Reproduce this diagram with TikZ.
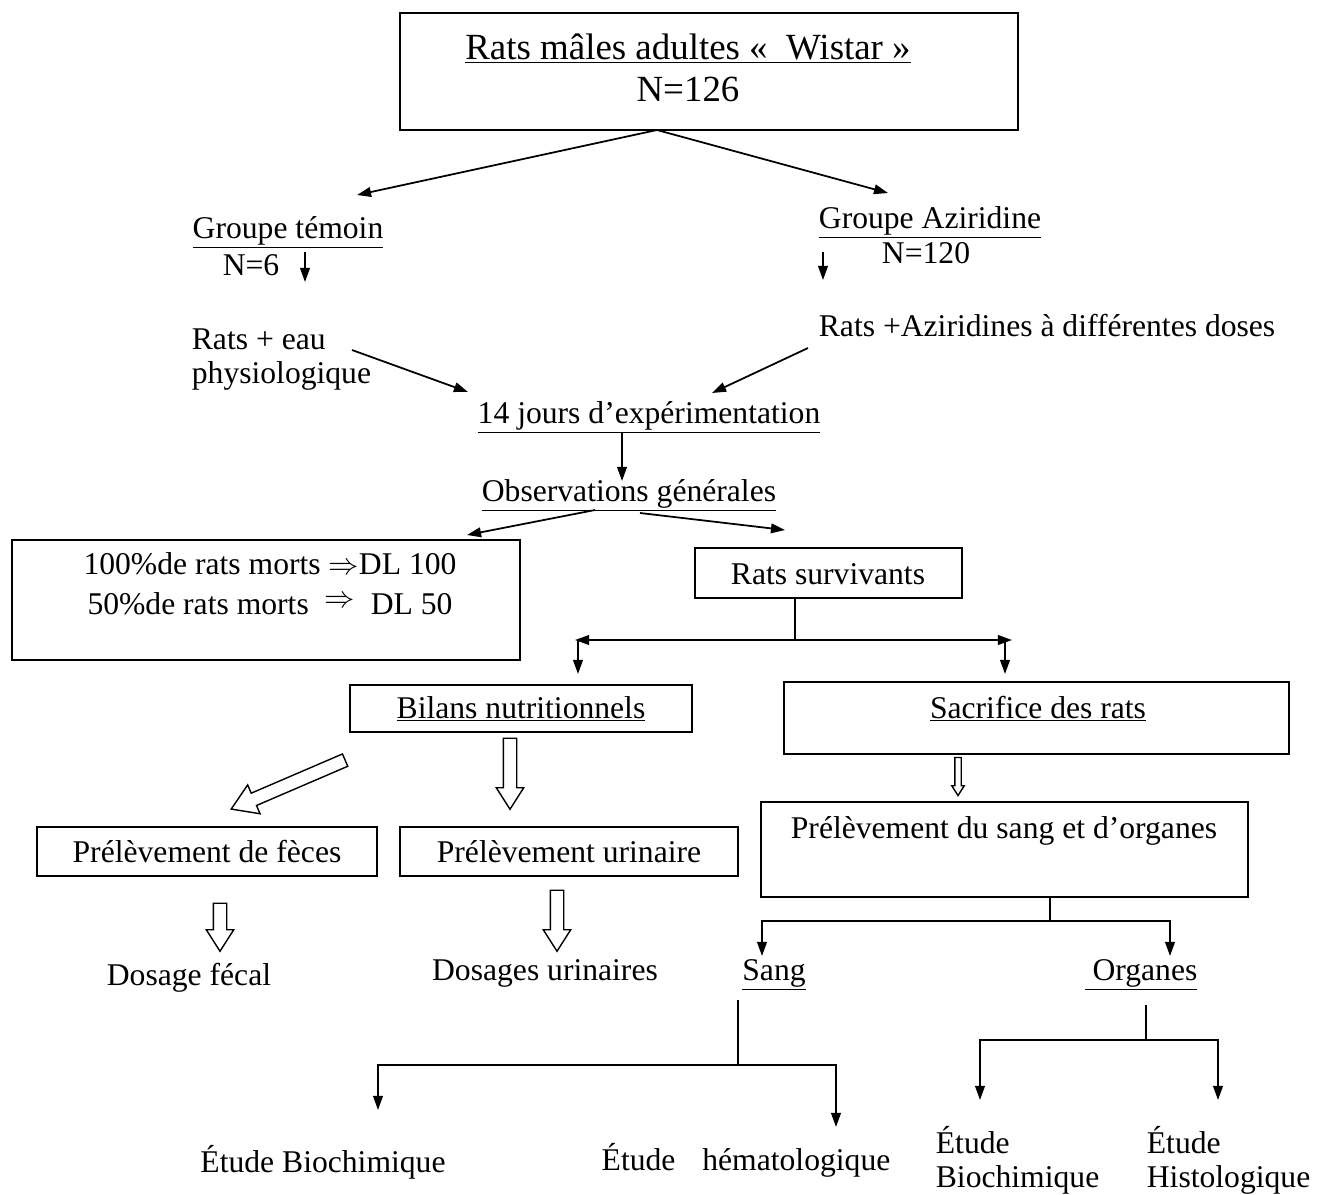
\documentclass[tikz,border=0pt]{standalone}
\usepackage{fontspec}
\setmainfont{Liberation Serif}
\usetikzlibrary{arrows.meta,fit,shapes.arrows}

\tikzset{
  box/.style={draw, inner sep=0pt},
  hollow/.style={single arrow, draw, line width=0.8pt, inner xsep=0pt,
    inner ysep=0.12cm, sloped, allow upside down, single arrow tip angle=65,
    single arrow head extend=0.14cm},
}

\begin{document}
\begin{tikzpicture}
    [x=0.02cm, y=-0.02cm, inner sep=0pt, line width=1pt,
     font=\fontsize{18}{19.5}\selectfont,
     >={Triangle[length=8pt,width=5.5pt]}]
    \useasboundingbox (0,0) rectangle (1331,1194);
    % top of the tree
    \node (rats) [box, fit={(400,13) (1018,130)}] {};
    \node (ratst) at (688,68) [align=center, font=\fontsize{21}{24}\selectfont]
      {\underline{Rats mâles adultes «~~Wistar~»}\\N=126};
    \coordinate (tb) at (657,130);
    \coordinate (gtin) at (357,195);
    \coordinate (gain) at (888,193);
    \node (gt) at (288,238) [anchor=base] {\underline{Groupe témoin}};
    \node (n6) at (251,275) [anchor=base] {N=6};
    \node (ga) at (930,228) [anchor=base] {\underline{Groupe Aziridine}};
    \node (n120) at (926,263) [anchor=base] {N=120};
    \draw [->] (tb) to (gtin);
    \draw [->] (tb) to (gain);
    \coordinate (n6a) at (305,252);
    \coordinate (n6b) at (305,282);
    \coordinate (n120a) at (823,252);
    \coordinate (n120b) at (823,280);
    \draw [->] (n6a) to (n6b);
    \draw [->] (n120a) to (n120b);
    \node (eau) at (191,328) [anchor=north west, align=left] {Rats + eau\\physiologique};
    \node (azi) at (818,336) [anchor=base west] {Rats +Aziridines à différentes doses};
    \node (exp) at (649,423) [anchor=base] {\underline{14 jours d’expérimentation}};
    \node (obs) at (629,501) [anchor=base] {\underline{Observations générales}};
    \coordinate (e1) at (352,350);
    \coordinate (e2) at (468,392);
    \coordinate (a1) at (808,348);
    \coordinate (a2) at (712,393);
    \coordinate (x1) at (622,432);
    \coordinate (x2) at (622,481);
    \coordinate (o1) at (595,510);
    \coordinate (o2) at (467,535);
    \coordinate (o3) at (640,513);
    \coordinate (o4) at (785,530);
    \draw [->] (e1) to (e2);
    \draw [->] (a1) to (a2);
    \draw [->] (x1) to (x2);
    \draw [->] (o1) to (o2);
    \draw [->] (o3) to (o4);
    % doses and survivors
    \node (dl) [box, fit={(12,540) (520,660)}] {};
    \node (dlt) at (270,552) [anchor=north, align=center]
      {100\%de rats morts $\Rightarrow$DL 100\\[3pt]
       50\%de rats morts \ \raisebox{4pt}{$\Rightarrow$}\ \ DL 50};
    \node (surv) [box, fit={(695,548) (962,598)}] {};
    \node (survt) at (828,584) [anchor=base] {Rats survivants};
    \coordinate (sv) at (795,640);
    \coordinate (sl) at (575,640);
    \coordinate (sr) at (1012,640);
    \coordinate (sla) at (578,640);
    \coordinate (slb) at (578,674);
    \coordinate (sra) at (1005,640);
    \coordinate (srb) at (1005,674);
    \draw (surv.south -| sv) to (sv);
    \draw [<->] (sl) to (sr);
    \draw [->] (sla) to (slb);
    \draw [->] (sra) to (srb);
    \node (bil) [box, fit={(350,685) (692,732)}] {};
    \node (bilt) at (521,718) [anchor=base] {\underline{Bilans nutritionnels}};
    \node (sac) [box, fit={(784,682) (1289,754)}] {};
    \node (sact) at (1038,718) [anchor=base] {\underline{Sacrifice des rats}};
    \node (pre) [box, fit={(761,802) (1248,897)}] {};
    \node (pret) at (1004,838) [anchor=base] {Prélèvement du sang et d’organes};
    \node (fec) [box, fit={(37,827) (377,876)}] {};
    \node (fect) at (207,862) [anchor=base] {Prélèvement de fèces};
    \node (uri) [box, fit={(400,827) (738,876)}] {};
    \node (urit) at (569,862) [anchor=base] {Prélèvement urinaire};
    % hollow arrows
    \coordinate (h1a) at (350,758);
    \coordinate (h1b) at (236,807);
    \coordinate (h2a) at (510,733);
    \coordinate (h2b) at (510,804);
    \coordinate (h3a) at (220,898);
    \coordinate (h3b) at (220,946);
    \coordinate (h4a) at (557,885);
    \coordinate (h4b) at (557,946);
    \coordinate (h5a) at (958,755);
    \coordinate (h5b) at (958,793);
    \path (h1a) to node [hollow, minimum height=2.48cm,
      single arrow head extend=0.18cm] {} (h1b);
    \path (h2a) to node [hollow, minimum height=1.42cm] {} (h2b);
    \path (h3a) to node [hollow, minimum height=0.96cm] {} (h3b);
    \path (h4a) to node [hollow, minimum height=1.22cm] {} (h4b);
    \path (h5a) to node [hollow, minimum height=0.76cm, inner ysep=0.05cm,
      single arrow head extend=0.06cm] {} (h5b);
    \node (dfe) at (189,985) [anchor=base] {Dosage fécal};
    \node (dur) at (545,980) [anchor=base] {Dosages urinaires};
    % blood and organs
    \coordinate (p1) at (1050,921);
    \coordinate (p2) at (762,921);
    \coordinate (p2b) at (762,956);
    \coordinate (p3) at (1170,921);
    \coordinate (p3b) at (1170,956);
    \draw (pre.south -| p1) to (p1);
    \draw [->] (p1) -- (p2) -- (p2b);
    \draw [->] (p1) -- (p3) -- (p3b);
    \node (sang) at (774,980) [anchor=base] {\underline{Sang}};
    \node (org) at (1141,980) [anchor=base] {\underline{\ Organes}};
    \coordinate (s1) at (738,1000);
    \coordinate (s2) at (738,1065);
    \coordinate (s3) at (378,1065);
    \coordinate (s3b) at (378,1110);
    \coordinate (s4) at (836,1065);
    \coordinate (s4b) at (836,1127);
    \draw (s1) to (s2);
    \draw [->] (s2) -- (s3) -- (s3b);
    \draw [->] (s2) -- (s4) -- (s4b);
    \node (eb1) at (323,1172) [anchor=base] {Étude Biochimique};
    \node (eh) at (746,1170) [anchor=base] {Étude\hspace{0.6em} hématologique};
    \coordinate (g1) at (1146,1005);
    \coordinate (g2) at (1146,1040);
    \coordinate (g3) at (980,1040);
    \coordinate (g3b) at (980,1100);
    \coordinate (g4) at (1218,1040);
    \coordinate (g4b) at (1218,1100);
    \draw (g1) to (g2);
    \draw [->] (g2) -- (g3) -- (g3b);
    \draw [->] (g2) -- (g4) -- (g4b);
    \node (eb2) at (935,1125) [anchor=north west, align=left] {Étude\\Biochimique};
    \node (ehi) at (1146,1125) [anchor=north west, align=left] {Étude\\Histologique};
\end{tikzpicture}
\end{document}
